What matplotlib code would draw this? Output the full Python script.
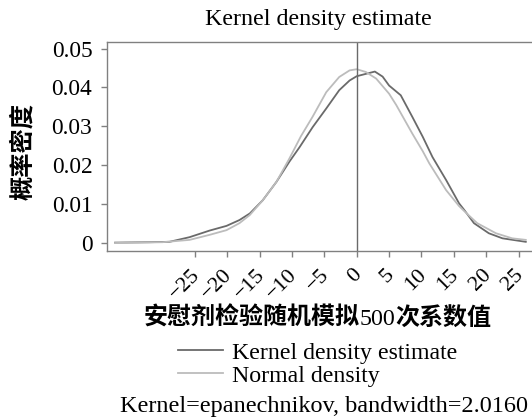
import matplotlib
matplotlib.use('Agg')
import matplotlib.pyplot as plt
import matplotlib.transforms as mtransforms

plt.rcParams['font.family'] = ['Liberation Serif', 'Noto Sans CJK SC', 'DejaVu Sans']
plt.rcParams['axes.unicode_minus'] = True

# values
x_kde = [-37.3, -32.0, -28.9, -25.8, -22.7, -20.1, -18.1, -16.5, -14.5, -12.4, -10.4, -8.8,
         -6.8, -4.7, -2.7, -1.1, 0.0, 1.4, 2.8, 4.0, 5.0, 6.8, 8.6, 10.2, 11.7, 13.8,
         15.8, 16.6, 18.1, 20.4, 22.5, 26.1]
kde = [0.0001, 0.0002, 0.0003, 0.0015, 0.0032, 0.0044, 0.0059, 0.0076, 0.0110, 0.0157, 0.0209, 0.0247,
       0.0298, 0.0346, 0.0393, 0.0418, 0.0429, 0.0435, 0.0441, 0.0428, 0.0405, 0.0380, 0.0324, 0.0273,
       0.0221, 0.0162, 0.0102, 0.0085, 0.0051, 0.0025, 0.0012, 0.0003]

x_norm = [-37.3, -30.0, -25.8, -22.7, -20.1, -18.1, -16.5, -14.5, -12.4, -10.4, -8.6, -6.8,
          -4.7, -2.7, -1.1, 0.0, 1.4, 3.0, 5.0, 6.1, 8.6, 10.2, 11.2, 13.8, 15.8, 16.6,
          18.6, 21.5, 24.0, 26.1]
normal = [0.0000, 0.0002, 0.0008, 0.0021, 0.0033, 0.0051, 0.0072, 0.0110, 0.0157, 0.0217, 0.0275, 0.0325,
          0.0388, 0.0427, 0.0444, 0.0447, 0.0440, 0.0423, 0.0384, 0.0355, 0.0281, 0.0236, 0.0205, 0.0136,
          0.0095, 0.0082, 0.0051, 0.0025, 0.0012, 0.0008]

x_ticks = [-25, -20, -15, -10, -5, 0, 5, 10, 15, 20, 25]
y_ticks = [0, 0.01, 0.02, 0.03, 0.04, 0.05]
y_ticklabels = ['0', '0.01', '0.02', '0.03', '0.04', '0.05']

# x label: CJK parts bold, the number in plain serif
xlabel_parts = ['安慰剂检验随机模拟', '500', '次系数值']

dark = '#6a6a6a'
light = '#bcbcbc'
frame = '#808080'
W, H = 532, 419

fig = plt.figure(figsize=(W / 100, H / 100), dpi=100)
ax = fig.add_axes([0.2017, 0.4017, 0.8, 0.4971])

l1, = ax.plot(x_kde, kde, color=dark, lw=1.3, label='Kernel density estimate')
l2, = ax.plot(x_norm, normal, color=light, lw=1.3, label='Normal density')
ax.axvline(0, color=dark, lw=1.0)

ax.set_xlim(-38.5, 27.2)
ax.set_ylim(-0.00198, 0.0516)
ax.set_xticks(x_ticks)
ax.set_yticks(y_ticks)
ax.set_yticklabels(y_ticklabels)

for s in ax.spines.values():
    s.set_color(frame)
    s.set_linewidth(1.0)
ax.tick_params(axis='both', colors=frame, length=4.3, width=1.0)
ax.tick_params(axis='y', labelsize=16.8, labelcolor='black', pad=6.5)
ax.tick_params(axis='x', labelsize=16, labelcolor='black', pad=6.5)

offset = mtransforms.ScaledTranslation(9 / 100, 0, fig.dpi_scale_trans)
for lab in ax.get_xticklabels():
    lab.set_rotation(45)
    lab.set_ha('right')
    lab.set_transform(lab.get_transform() + offset)

fig.text(318 / W, 1 - 20 / H, 'Kernel density estimate', ha='center', va='center', fontsize=17.3)
fig.text(23 / W, 1 - 151 / H, '概率密度', rotation=90, ha='center', va='center',
         fontsize=17.5, fontweight='bold', family='Noto Sans CJK SC')

# lay the x label pieces side by side, centred under the axes
renderer = fig.canvas.get_renderer()
pieces = []
for part in xlabel_parts:
    if part.isdigit():
        t = fig.text(0, 1 - 325 / H, part, fontsize=17.3, family='Liberation Serif', va='baseline')
    else:
        t = fig.text(0, 1 - 325 / H, part, fontsize=17.3, fontweight='bold',
                     family='Noto Sans CJK SC', va='baseline')
    pieces.append(t)
widths = [t.get_window_extent(renderer).width for t in pieces]
xpos = 317.5 - sum(widths) / 2
for t, w in zip(pieces, widths):
    t.set_x(xpos / W)
    xpos += w

fig.legend(handles=[l1, l2], loc='upper left', bbox_to_anchor=(178 / W, 1 - 342 / H),
           frameon=False, fontsize=17.2, handlelength=1.9, handletextpad=0.35,
           labelspacing=0.05, borderpad=0, borderaxespad=0)

fig.text(324 / W, 1 - 406.7 / H, 'Kernel=epanechnikov, bandwidth=2.0160', ha='center', va='center',
         fontsize=17.5)

fig.savefig('out.png', dpi=100)
